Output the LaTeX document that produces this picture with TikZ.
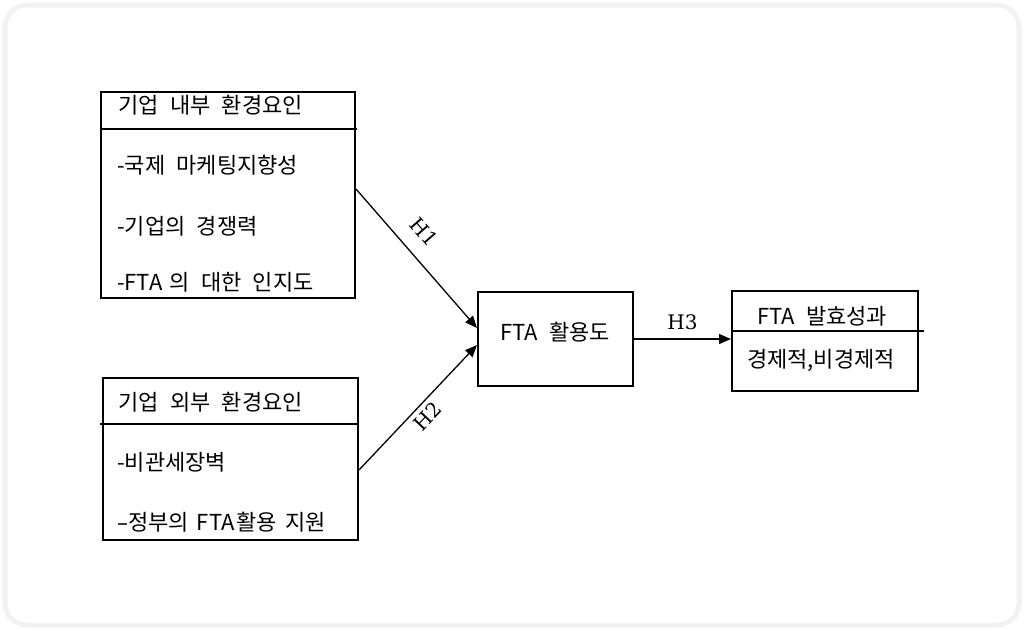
\documentclass[tikz,border=0pt]{standalone}
\usepackage{fontspec}
\newfontfamily\krfont[WordSpace=2.3]{Noto Sans CJK KR}
\newfontfamily\hfont{DejaVu Serif}
\newfontfamily\dashfont{DejaVu Sans}
\usetikzlibrary{arrows.meta,calc}
\begin{document}
\begin{tikzpicture}[x=1pt,y=1pt,
  frame/.style={draw=black,line width=2pt,inner sep=0pt},
  divider/.style={draw=black,line width=1.2pt},
  txt/.style={font=\krfont\fontsize{22}{26}\selectfont,inner sep=0pt,anchor=west},
  ctxt/.style={font=\krfont\fontsize{22}{26}\selectfont,inner sep=0pt},
  hlab/.style={font=\hfont\fontsize{20}{24}\selectfont,inner sep=0pt},
  arr/.style={draw=black,line width=1.3pt,-{Triangle[length=12pt,width=10pt]}}]
\useasboundingbox (0,0) rectangle (1025,-630);
\draw[draw=black!5,line width=5pt,rounded corners=22pt] (5,-5) rectangle (1019,-625);
% boxes
\node[frame,minimum width=254pt,minimum height=206pt] (b1) at (228,-195) {};
\node[frame,minimum width=255pt,minimum height=162pt] (b2) at (230.5,-459) {};
\node[frame,minimum width=155pt,minimum height=94pt] (mid) at (555.5,-339) {};
\node[frame,minimum width=186pt,minimum height=100pt] (res) at (825,-341) {};
% dividers
\coordinate (d1e) at (357,-129);
\draw[divider] (b1.west |- d1e) -- (d1e);
\coordinate (d2w) at (100,-424);
\draw[divider] (d2w) -- (b2.east |- d2w);
\coordinate (d3e) at (924,-331);
\draw[divider] (res.west |- d3e) -- (d3e);
% texts box 1
\node[txt] (t1) at (118,-105) {기업 내부 환경요인};
\node[txt] (t2) at (117,-165) {-국제 마케팅지향성};
\node[txt] (t3) at (117,-226) {-기업의 경쟁력};
\node[txt] (t4) at (117,-282) {-FTA\hspace{7pt}의 대한 인지도};
% texts box 2
\node[txt] (t5) at (118,-402) {기업 외부 환경요인};
\node[txt] (t6) at (117,-462) {-비관세장벽};
\node[txt] (t7) at (117,-522) {{\dashfont –}정부의\hspace{8pt}FTA\hspace{2pt}활용\hspace{8pt}지원};
% center and result texts
\node[ctxt] (t8) at (555,-332) {FTA 활용도};
\node[ctxt] (t9) at (822,-316) {FTA 발효성과};
\node[ctxt] (t10) at (821,-360) {경제적,비경제적};
% arrows
\draw[arr] ([yshift=6pt]b1.east) -- node[hlab,sloped,above=15pt,pos=0.42] (h1) {H1} ([yshift=11pt]mid.west);
\draw[arr] ([yshift=-11pt]b2.east) -- node[hlab,sloped,below=5pt,pos=0.5] (h2) {H2} ([yshift=-6pt]mid.west);
\draw[arr] (mid.east) -- node[hlab,above=9pt] (h3) {H3} (res.west |- mid.east);
\end{tikzpicture}
\end{document}
